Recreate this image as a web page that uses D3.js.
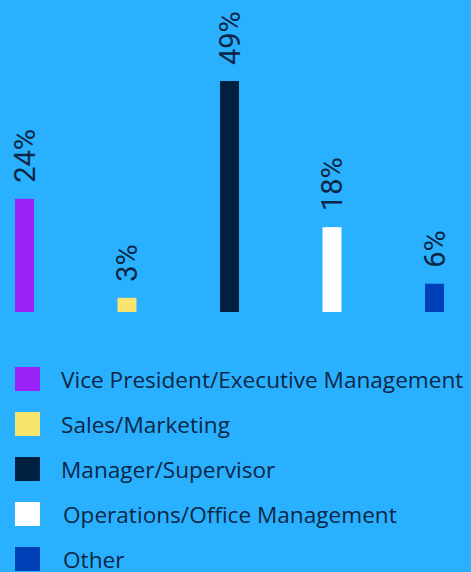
<!DOCTYPE html>
<html><head><meta charset="utf-8">
<script src="https://cdn.jsdelivr.net/npm/d3@7"></script>
<style>html,body{margin:0;padding:0;background:#29b1ff;}svg{display:block;}</style>
</head><body>
<script>
const categories = ["Vice President/Executive Management","Sales/Marketing","Manager/Supervisor","Operations/Office Management","Other"];
const values = [24, 3, 49, 18, 6];
const colors = ["#9b22f7","#f7e56e","#002040","#ffffff","#0040b6"];

const W = 471, H = 572;
const svg = d3.select("body").append("svg").attr("width", W).attr("height", H);
svg.append("rect").attr("width", W).attr("height", H).attr("fill", "#29b1ff");

const baseline = 312;
const x = d3.scaleBand().domain(categories).range([15, 444]).paddingInner(0.815).paddingOuter(0);
const y = d3.scaleLinear().domain([0, 49]).range([baseline, 81]);

const g = svg.append("g");
g.selectAll("rect.bar").data(categories).join("rect").attr("class","bar")
  .attr("x", d => x(d)).attr("width", x.bandwidth())
  .attr("y", (d,i) => y(values[i])).attr("height", (d,i) => baseline - y(values[i]))
  .attr("fill", (d,i) => colors[i]);

g.selectAll("text.val").data(categories).join("text").attr("class","val")
  .attr("transform", (d,i) => `translate(${x(d) + x.bandwidth()/2},${y(values[i]) - 16}) rotate(-90)`)
  .attr("dy", "0.36em")
  .attr("text-anchor", "start")
  .attr("font-family", "Roboto, sans-serif")
  .attr("font-weight", 400)
  .attr("font-size", 29)
  .attr("fill", "#0b2745")
  .text((d,i) => values[i] + "%");

const legY = d3.scalePoint().domain(categories).range([367, 547]);
const leg = svg.append("g");
leg.selectAll("rect").data(categories).join("rect")
  .attr("x", 15).attr("y", d => legY(d)).attr("width", 25).attr("height", 24)
  .attr("fill", (d,i) => colors[i]);
leg.selectAll("text").data(categories).join("text")
  .attr("x", (d,i) => i >= 3 ? 63 : 61).attr("y", d => legY(d) + 21)
  .attr("font-family", "'Open Sans', sans-serif")
  .attr("font-size", 22.6)
  .attr("fill", "#0b2745")
  .text(d => d);
</script>
</body></html>
